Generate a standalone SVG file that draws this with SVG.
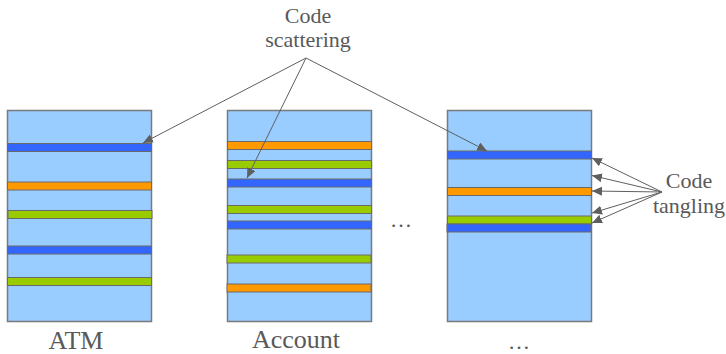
<svg xmlns="http://www.w3.org/2000/svg" width="726" height="354" viewBox="0 0 726 354">
<defs>
<style>
.box{fill:#99CCFF;stroke:#7a7a7a;stroke-width:1.5}
.b{fill:#3366FF;stroke:#6a6a6a;stroke-width:1}
.o{fill:#FF9900;stroke:#6a6a6a;stroke-width:1}
.g{fill:#99CC00;stroke:#6a6a6a;stroke-width:1}
text{font-family:"Liberation Serif","Times New Roman",Times,"DejaVu Serif","Noto Serif",serif;fill:#595959;text-anchor:middle}
.ln{stroke:#5f5f5f;stroke-width:1;fill:none;marker-end:url(#ah)}
</style>
<marker id="ah" markerUnits="userSpaceOnUse" markerWidth="11" markerHeight="10" refX="10" refY="4.5" orient="auto">
<path d="M0,0 L10,4.5 L0,9 Z" fill="#5f5f5f"/>
</marker>
</defs>
<rect width="726" height="354" fill="#ffffff"/>
<g id="atm">
<rect class="box" x="7.5" y="110.5" width="144" height="211"/>
<rect class="b" x="7.5" y="143.5" width="144" height="8"/>
<rect class="o" x="7.5" y="182" width="144" height="8"/>
<rect class="g" x="8" y="210.5" width="144" height="8"/>
<rect class="b" x="7.5" y="246" width="144" height="8"/>
<rect class="g" x="7.5" y="277.5" width="144" height="8"/>
<text x="76" y="349" font-size="26" font-family="Liberation Serif, serif">ATM</text>
</g>
<g id="account">
<rect class="box" x="227.5" y="110.5" width="144" height="211"/>
<rect class="o" x="227.5" y="141.5" width="144" height="8"/>
<rect class="g" x="227.5" y="160.5" width="144" height="8"/>
<rect class="b" x="227.5" y="179" width="144" height="8"/>
<rect class="g" x="227.5" y="205.5" width="144" height="8"/>
<rect class="b" x="227.5" y="221" width="144" height="8"/>
<rect class="g" x="227" y="255" width="144" height="8"/>
<rect class="o" x="227" y="284" width="144" height="8"/>
<text x="296" y="348" font-size="26">Account</text>
</g>
<g id="other">
<rect class="box" x="447.5" y="110.5" width="144" height="211"/>
<rect class="b" x="447.5" y="151" width="144" height="8"/>
<rect class="o" x="447.5" y="187.5" width="144" height="8"/>
<rect class="g" x="447.5" y="216" width="144" height="8"/>
<rect class="b" x="447" y="224" width="144" height="8"/>
<text x="519" y="349" font-size="22">…</text>
</g>
<g id="dots">
<text x="401" y="227" font-size="22">…</text>
</g>
<g id="scattering-label">
<text x="308" y="23" font-size="22">Code</text>
<text x="308" y="47" font-size="22">scattering</text>
</g>
<g id="tangling-label">
<text x="689" y="188" font-size="22">Code</text>
<text x="689" y="213" font-size="22">tangling</text>
</g>
<g id="connectors">
<line class="ln" x1="306" y1="58" x2="143" y2="143"/>
<line class="ln" x1="306" y1="58" x2="247" y2="178"/>
<line class="ln" x1="306" y1="58" x2="487" y2="151"/>
<line class="ln" x1="662" y1="192" x2="592" y2="158"/>
<line class="ln" x1="662" y1="192" x2="592" y2="175.5"/>
<line class="ln" x1="662" y1="192" x2="592" y2="191"/>
<line class="ln" x1="662" y1="192" x2="592" y2="213"/>
<line class="ln" x1="662" y1="192" x2="592" y2="223"/>
</g>
</svg>
